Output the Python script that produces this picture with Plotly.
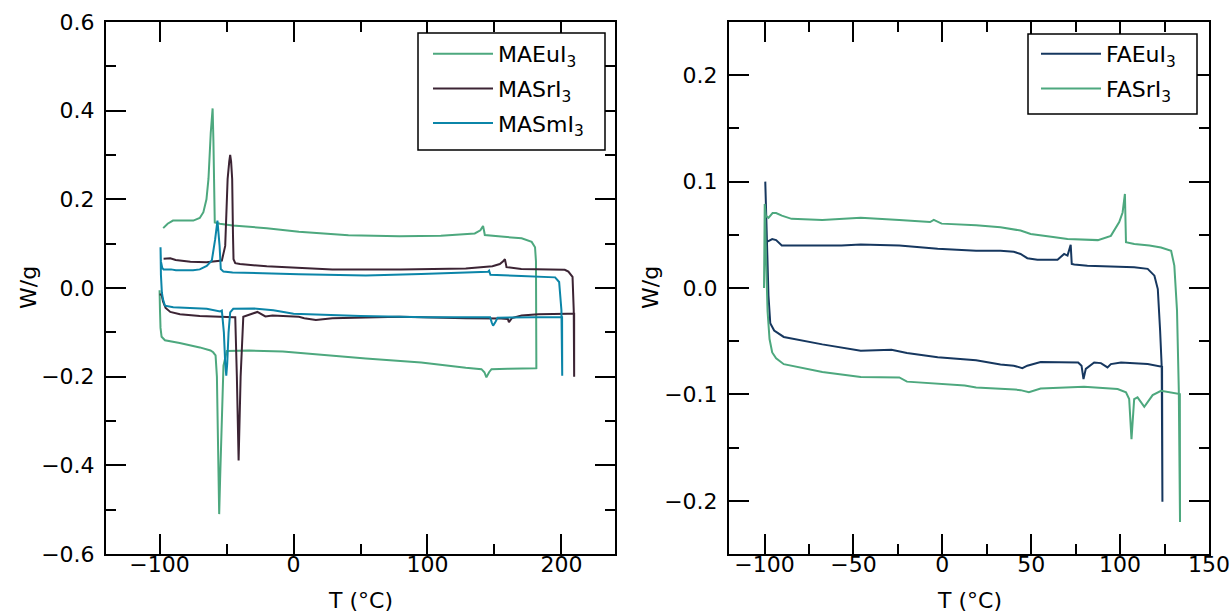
import plotly.graph_objects as go

# ---------------- Left panel data (T in °C, W/g) ----------------
maeu_T = [-97.3, -94, -90, -80, -74.8, -70, -67.3, -65, -63.5, -61.8, -61, -60.4, -59.8, -59.3, -58.8,
          -55, -45.5, -20, 4, 41, 79, 110, 128.6, 135.3, 139.5, 141.5, 142.3, 142.8, 155, 170.3, 177.8,
          180.3, 181, 181.2, 181.3,
          181.2, 160, 147.8, 146, 144, 142.5, 140.3, 128.6, 95.3, 54, 4, -8, -33, -45, -49.8, -52.3,
          -53.5, -54.8, -55.5, -56.2, -57.2, -58.2, -60, -62, -70, -85, -92, -96, -98.5, -99.3, -99.7, -100]
maeu_W = [0.135, 0.145, 0.152, 0.152, 0.152, 0.158, 0.171, 0.2, 0.246, 0.35, 0.396, 0.405, 0.33, 0.22, 0.148,
          0.145, 0.141, 0.135, 0.127, 0.119, 0.117, 0.118, 0.122, 0.123, 0.13, 0.14, 0.128, 0.1195, 0.116, 0.112, 0.104,
          0.092, 0.06, -0.05, -0.183,
          -0.181, -0.182, -0.183, -0.19, -0.2015, -0.19, -0.183, -0.18, -0.168, -0.159, -0.147, -0.143, -0.141, -0.141, -0.142, -0.175,
          -0.28, -0.43, -0.51, -0.4, -0.2, -0.152, -0.145, -0.141, -0.134, -0.124, -0.121, -0.118, -0.11, -0.09, -0.05, -0.005]

masr_T = [-97, -92, -88, -77, -65, -58, -55.5, -53.5, -51, -49.2, -48, -47.3, -46.6, -45.8, -45.2, -44.8, -43.5,
          -40, -20, 29, 80, 128.6, 148.5, 154, 156.5, 157.8, 158.5, 159, 170, 182.8, 202.5, 205.2, 208.3, 209.2, 209.5,
          209.5, 204.8, 182.8, 170.3, 163, 161.5, 160.8, 160, 155, 128.6, 79, 29, 16.7, 8, 4, -15.7, -21, -27, -33, -37.5,
          -39.5, -41, -42.3, -43.5, -44.8, -58, -70, -84.8, -92, -95.5, -97.5, -98.5, -100]
masr_W = [0.066, 0.067, 0.063, 0.059, 0.058, 0.06, 0.061, 0.062, 0.095, 0.246, 0.285, 0.3, 0.285, 0.246, 0.12, 0.065, 0.056,
          0.054, 0.049, 0.042, 0.042, 0.044, 0.049, 0.054, 0.06, 0.065, 0.055, 0.047, 0.043, 0.042, 0.041, 0.037, 0.025, -0.05, -0.2,
          -0.058, -0.058, -0.059, -0.062, -0.068, -0.074, -0.077, -0.07, -0.069, -0.068, -0.065, -0.068, -0.072, -0.068, -0.065, -0.062, -0.064, -0.054, -0.06, -0.065,
          -0.2, -0.389, -0.2, -0.066, -0.066, -0.065, -0.063, -0.059, -0.054, -0.045, -0.03, -0.014, -0.015]

masm_T = [-99.3, -99, -98, -97, -91.5, -87.8, -75, -70, -64.8, -61, -58.5, -56.8, -55.2, -54.3, -52.3,
          -45.5, 4, 54, 95.3, 143, 145.3, 146, 147, 170, 195.3, 198.3, 200, 200.6,
          200.5, 180, 152.3, 150.5, 149, 148, 146.8, 100, 50, 0, -15, -30, -40, -45, -47.3, -48.5, -49.5, -50.2, -51,
          -52, -53.5, -54.8, -64.8, -80, -89.8, -96, -97.5, -98.3, -99, -99.3]
masm_W = [0.092, 0.06, 0.045, 0.042, 0.042, 0.04, 0.04, 0.042, 0.05, 0.062, 0.11, 0.152, 0.095, 0.043, 0.037,
          0.035, 0.031, 0.028, 0.0316, 0.036, 0.0368, 0.039, 0.03, 0.027, 0.024, 0.0135, -0.05, -0.198,
          -0.066, -0.066, -0.067, -0.078, -0.085, -0.078, -0.066, -0.066, -0.063, -0.058, -0.05, -0.046, -0.046, -0.047, -0.055, -0.1, -0.17, -0.198, -0.17,
          -0.1, -0.051, -0.053, -0.047, -0.045, -0.0436, -0.04, -0.025, -0.01, 0.03, 0.092]

# ---------------- Right panel data ----------------
faeu_T = [-99.6, -97.8, -95.7, -93.5, -90.3, -78.4, -56.7, -45.9, -24.2, -2.6, 19, 32.7, 40.2, 44, 47.8, 53.5,
          64.8, 68.5, 70.4, 72.2, 72.8, 74.2, 81.6, 107.9, 115.5, 119.3, 121.2, 122.5, 123.4, 123.8,
          123.6, 115.5, 100.5, 94.8, 92.9, 89.2, 85.4, 80.7, 79.4, 78.3, 76.4, 55.3, 47.8, 45, 40.2, 32.7, 19,
          -2.6, -19.9, -28.6, -45.9, -67.5, -89.2, -94.6, -96.8, -97.8, -98.9, -99.6]
faeu_W = [0.046, 0.044, 0.046, 0.045, 0.040, 0.040, 0.040, 0.041, 0.040, 0.037, 0.035, 0.035, 0.034, 0.032, 0.028, 0.0266,
          0.0266, 0.032, 0.0304, 0.0405, 0.0226, 0.022, 0.021, 0.0195, 0.018, 0.0116, -0.001, -0.04, -0.074, -0.201,
          -0.074, -0.0715, -0.070, -0.0715, -0.0746, -0.0706, -0.070, -0.076, -0.0856, -0.073, -0.070, -0.0695, -0.073, -0.0753, -0.073, -0.072, -0.068,
          -0.065, -0.061, -0.058, -0.059, -0.053, -0.046, -0.040, -0.033, -0.007, 0.051, 0.1]

fasr_T = [-100.3, -99.9, -99.3, -97.8, -95.5, -93.5, -90.3, -84.8, -67.5, -45.9, -24.2, -6.9, -4.8, -0.4, 19, 32.7,
          44, 49.7, 62.3, 70.4, 87.5, 94.8, 99.5, 101.4, 102.7, 103.3, 108, 116.5, 123, 128.7, 130.5, 132, 133, 133.7,
          133.6, 123, 118.3, 113.6, 109.8, 107.9, 106.4, 105.1, 103.3, 98.6, 79.7, 55.3, 48.7, 44, 40.7, 19, 12.6,
          -2.6, -19.9, -24.2, -45.9, -67.5, -78.4, -89.2, -93.5, -95.7, -97.2, -98.3, -99.2, -99.8]
fasr_W = [0.0, 0.079, 0.068, 0.066, 0.0705, 0.0705, 0.068, 0.065, 0.064, 0.066, 0.064, 0.062, 0.064, 0.0605, 0.059, 0.057,
          0.054, 0.0508, 0.048, 0.046, 0.045, 0.049, 0.062, 0.071, 0.0884, 0.043, 0.0414, 0.040, 0.038, 0.035, 0.021, -0.021, -0.095, -0.22,
          -0.0997, -0.0966, -0.1007, -0.1117, -0.1028, -0.1044, -0.142, -0.1044, -0.098, -0.095, -0.0928, -0.0944, -0.098, -0.096, -0.0954, -0.0936, -0.0917,
          -0.09, -0.088, -0.084, -0.0837, -0.079, -0.075, -0.0716, -0.066, -0.0606, -0.048, -0.022, 0.03, 0.075]

left_names = ["MAEuI<sub>3</sub>", "MASrI<sub>3</sub>", "MASmI<sub>3</sub>"]
right_names = ["FAEuI<sub>3</sub>", "FASrI<sub>3</sub>"]

GREEN = "#4da87e"
PURPLE = "#3c2434"
TEAL = "#0b85a8"
NAVY = "#16375f"

left_x_ticks = [-100, 0, 100, 200]
left_x_labels = ["\u2212100", "0", "100", "200"]
left_y_ticks = [-0.6, -0.4, -0.2, 0.0, 0.2, 0.4, 0.6]
left_y_labels = ["\u22120.6", "\u22120.4", "\u22120.2", "0.0", "0.2", "0.4", "0.6"]
right_x_ticks = [-100, -50, 0, 50, 100, 150]
right_x_labels = ["\u2212100", "\u221250", "0", "50", "100", "150"]
right_y_ticks = [-0.2, -0.1, 0.0, 0.1, 0.2]
right_y_labels = ["\u22120.2", "\u22120.1", "0.0", "0.1", "0.2"]

FONT = "DejaVu Sans"
W, H = 1231, 613

fig = go.Figure()
for i, (T, Wg, name, col) in enumerate([(maeu_T, maeu_W, left_names[0], GREEN),
                                         (masr_T, masr_W, left_names[1], PURPLE),
                                         (masm_T, masm_W, left_names[2], TEAL)]):
    fig.add_trace(go.Scatter(x=T, y=Wg, mode="lines", name=name, line=dict(color=col, width=2),
                             xaxis="x", yaxis="y", legend="legend", legendgroup="L%d" % i))
for i, (T, Wg, name, col) in enumerate([(faeu_T, faeu_W, right_names[0], NAVY),
                                         (fasr_T, fasr_W, right_names[1], GREEN)]):
    fig.add_trace(go.Scatter(x=T, y=Wg, mode="lines", name=name, line=dict(color=col, width=2),
                             xaxis="x2", yaxis="y2", legend="legend2", legendgroup="R%d" % i))

def ax(domain, rng, tv, tt, minor_dtick, anchor, standoff):
    return dict(domain=domain, range=rng, tickvals=tv, ticktext=tt, ticks="inside", ticklen=20,
                tickwidth=1.5, tickcolor="black", showline=True, linecolor="black", linewidth=2,
                mirror="allticks", showgrid=False, zeroline=False, anchor=anchor, automargin=False,
                ticklabelstandoff=standoff,
                tickfont=dict(family=FONT, size=22, color="black"),
                minor=dict(ticks="inside", ticklen=10, tickwidth=1.5, tickcolor="black",
                           dtick=minor_dtick, tick0=0, showgrid=False))

yd = [(613 - 554) / 613, (613 - 22) / 613]
ymid = 0.5 * (yd[0] + yd[1])
legend_common = dict(xanchor="left", yanchor="top", borderwidth=0, bgcolor="rgba(0,0,0,0)",
                     font=dict(family=FONT, size=22, color="black"), itemwidth=60, tracegroupgap=3)

fig.update_layout(
    width=W, height=H, margin=dict(l=0, r=0, t=0, b=0),
    paper_bgcolor="white", plot_bgcolor="white",
    font=dict(family=FONT, size=22, color="black"),
    xaxis=ax([106 / W, 615 / W], [-140, 240], left_x_ticks, left_x_labels, 50, "y", -10),
    yaxis=ax(yd, [-0.6, 0.6], left_y_ticks, left_y_labels, 0.1, "x", 5),
    xaxis2=ax([729 / W, 1209 / W], [-120, 150], right_x_ticks, right_x_labels, 25, "y2", -10),
    yaxis2=ax(yd, [-0.25, 0.25], right_y_ticks, right_y_labels, 0.05, "x2", 5),
    legend=dict(x=428 / W, y=(613 - 33) / 613, **legend_common),
    legend2=dict(x=1036 / W, y=(613 - 33) / 613, **legend_common),
    showlegend=True,
    shapes=[
        dict(type="rect", xref="paper", yref="paper", x0=418 / W, x1=605 / W,
             y0=(613 - 150) / 613, y1=(613 - 33) / 613, line=dict(color="black", width=1.5),
             fillcolor="white", layer="above"),
        dict(type="rect", xref="paper", yref="paper", x0=1028 / W, x1=1197 / W,
             y0=(613 - 114) / 613, y1=(613 - 34) / 613, line=dict(color="black", width=1.5),
             fillcolor="white", layer="above"),
    ],
    annotations=[
        dict(text="W/g", x=28 / W, y=ymid, xref="paper", yref="paper", textangle=-90,
             xanchor="center", yanchor="middle", showarrow=False, font=dict(family=FONT, size=22)),
        dict(text="W/g", x=650 / W, y=ymid, xref="paper", yref="paper", textangle=-90,
             xanchor="center", yanchor="middle", showarrow=False, font=dict(family=FONT, size=22)),
        dict(text="T (\u00b0C)", x=360.5 / W, y=(613 - 600) / 613, xref="paper", yref="paper",
             xanchor="center", yanchor="middle", showarrow=False, font=dict(family=FONT, size=22)),
        dict(text="T (\u00b0C)", x=969 / W, y=(613 - 600) / 613, xref="paper", yref="paper",
             xanchor="center", yanchor="middle", showarrow=False, font=dict(family=FONT, size=22)),
    ],
)

fig.write_html("out.html")
